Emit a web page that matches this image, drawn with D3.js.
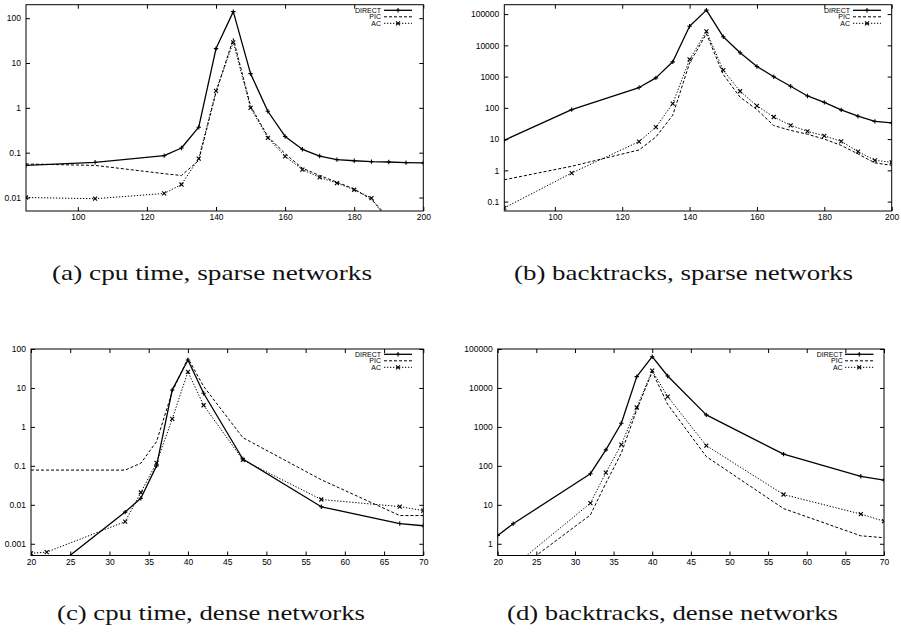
<!DOCTYPE html>
<html><head><meta charset="utf-8">
<script src="https://cdn.jsdelivr.net/npm/d3@7"></script>
<style>
body{margin:0;background:#fff}
svg{display:block}
.tick text{font-family:"Liberation Sans",Arial,sans-serif;font-size:8.5px;fill:#000}
.leg{font-family:"Liberation Sans",Arial,sans-serif;font-size:7px;fill:#000}
.cap{font-family:"Liberation Serif","Times New Roman",serif;font-size:22px;fill:#111}
</style>
</head><body>
<svg id="fig" width="901" height="632"></svg>
<script>
// ---------- data ----------
const seriesNames = ["DIRECT", "PIC", "AC"];

// sparse networks (x values)
const xSparse = [85,105,125,130,135,140,145,150,155,160,165,170,175,180,185,190,195,200];
// (a) cpu time, sparse
const aDirect = [0.052,0.061,0.086,0.127,0.37,21,140,5.8,0.84,0.23,0.119,0.084,0.070,0.066,0.063,0.062,0.060,0.059];
const aPic    = [0.056,0.052,0.034,0.031,0.067,2.2,35,1.1,0.23,0.095,0.045,0.031,0.022,0.0155,0.009,0.0035,null,null];
const aAc     = [0.010,0.0094,0.0123,0.0195,0.074,2.4,29,1.0,0.215,0.083,0.042,0.028,0.021,0.0149,0.0097,0.0028,null,null];
// (b) backtracks, sparse
const bDirect = [9.2,88,447,912,2970,41000,134000,18800,5800,2100,990,490,240,150,86,54,37,33];
const bPic    = [0.5,1.35,4.5,11.7,58,2700,23500,1170,219,88,27,19,14.3,10,6.3,3.35,1.73,1.45];
const bAc     = [0.063,0.82,8.3,24,137,3530,28000,1600,340,116,51,27.6,17.8,12.7,8.5,4.0,2.1,1.8];

// dense networks (x values)
const xDense = [20,22,32,34,36,38,40,42,47,57,67,70];
// (c) cpu time, dense
const cDirect = [0.00008,0.00017,0.0065,0.0148,0.1,8.9,52,7.3,0.15,0.0089,0.0033,0.0029];
const cPic    = [0.078,0.078,0.078,0.117,0.42,8,58,11,0.53,0.044,0.0053,0.0053];
const cAc     = [0.00057,0.00061,0.0037,0.0207,0.12,1.6,26,3.6,0.142,0.0137,0.009,0.0071];
// (d) backtracks, dense
const dDirect = [1.63,3.26,63,257,1240,19500,63500,20300,2040,200,54,43];
const dPic    = [0.1,0.18,5.5,36,213,2740,26000,3800,173,8.0,1.6,1.43];
const dAc     = [0.12,0.26,11,67,350,3150,27700,6000,330,18.4,5.8,3.8];

// tick values / labels
const xTicksSparse = [100,120,140,160,180,200];
const xTicksDense  = [20,25,30,35,40,45,50,55,60,65,70];
const yTicksA = [0.01,0.1,1,10,100];
const yTicksB = [0.1,1,10,100,1000,10000,100000];
const yTicksC = [0.001,0.01,0.1,1,10,100];
const yTicksD = [1,10,100,1000,10000,100000];

const captions = ["(a) cpu time, sparse networks","(b) backtracks, sparse networks",
                  "(c) cpu time, dense networks","(d) backtracks, dense networks"];

// ---------- layout ----------
const panels = [
  {x0:26, x1:423.3, y0:4.7, y1:211, xd:[85,200], yd:[0.005,200], xs:xSparse, ser:[aDirect,aPic,aAc],
   xt:xTicksSparse, yt:yTicksA, legX:381, legL:[384,412], legY:[10.3,16.8,23.3], cap:captions[0], capX:52, capW:320, capY:280},
  {x0:504.3, x1:891.7, y0:4.7, y1:211, xd:[85,200], yd:[0.05,200000], xs:xSparse, ser:[bDirect,bPic,bAc],
   xt:xTicksSparse, yt:yTicksB, legX:850, legL:[853,881], legY:[10.3,16.8,23.3], cap:captions[1], capX:514, capW:339, capY:280},
  {x0:31, x1:423.3, y0:349, y1:555.5, xd:[20,70], yd:[0.0005,100], xs:xDense, ser:[cDirect,cPic,cAc],
   xt:xTicksDense, yt:yTicksC, legX:381, legL:[384,412], legY:[354.3,360.8,367.3], cap:captions[2], capX:57, capW:308, capY:620},
  {x0:497.7, x1:884, y0:349, y1:555.5, xd:[20,70], yd:[0.5,100000], xs:xDense, ser:[dDirect,dPic,dAc],
   xt:xTicksDense, yt:yTicksD, legX:842.7, legL:[845,873.5], legY:[354.3,360.8,367.3], cap:captions[3], capX:507, capW:331, capY:620}
];

const styles = [
  {w:1.3, dash:null, marker:"plus"},
  {w:1.0, dash:"3,2", marker:null},
  {w:1.0, dash:"1.3,1.7", marker:"cross"}
];
const markerPath = {
  plus:"M-2.2,0H2.2M0,-2.2V2.2",
  cross:"M-2,-2L2,2M-2,2L2,-2"
};

const svg = d3.select("#fig");

panels.forEach((p, pi) => {
  const x = d3.scaleLinear().domain(p.xd).range([p.x0, p.x1]);
  const y = d3.scaleLog().domain(p.yd).range([p.y1, p.y0]);
  const g = svg.append("g");

  const clipId = "clip" + pi;
  svg.append("clipPath").attr("id", clipId).append("rect")
    .attr("x", p.x0).attr("y", p.y0).attr("width", p.x1 - p.x0).attr("height", p.y1 - p.y0);

  const fmt = d => String(d);
  // axes (ticks inward on all four sides)
  const ax = g.append("g").attr("transform", `translate(0,${p.y1})`)
    .call(d3.axisBottom(x).tickValues(p.xt).tickSize(-4).tickPadding(3).tickFormat(fmt));
  const axT = g.append("g").attr("transform", `translate(0,${p.y0})`)
    .call(d3.axisTop(x).tickValues(p.xt).tickSize(-4).tickFormat(""));
  const ay = g.append("g").attr("transform", `translate(${p.x0},0)`)
    .call(d3.axisLeft(y).tickValues(p.yt).tickSize(-4).tickPadding(5).tickFormat(fmt));
  const ayR = g.append("g").attr("transform", `translate(${p.x1},0)`)
    .call(d3.axisRight(y).tickValues(p.yt).tickSize(-4).tickFormat(""));
  [ax, axT, ay, ayR].forEach(a => {
    a.select(".domain").remove();
    a.selectAll(".tick line").attr("stroke", "#000").attr("stroke-width", 1);
    a.attr("font-family", null).attr("font-size", null);
  });

  // frame
  g.append("rect").attr("x", p.x0).attr("y", p.y0)
    .attr("width", p.x1 - p.x0).attr("height", p.y1 - p.y0)
    .attr("fill", "none").attr("stroke", "#000").attr("stroke-width", 1);

  // series
  const plot = g.append("g").attr("clip-path", `url(#${clipId})`);
  p.ser.forEach((vals, si) => {
    const st = styles[si];
    const pts = p.xs.map((xv, i) => [xv, vals[i]]).filter(d => d[1] != null);
    const line = d3.line().x(d => x(d[0])).y(d => y(d[1]));
    plot.append("path").attr("d", line(pts))
      .attr("fill", "none").attr("stroke", "#000").attr("stroke-width", st.w)
      .attr("stroke-dasharray", st.dash).attr("stroke-linejoin", "round");
    if (st.marker) {
      plot.selectAll(null).data(pts).enter().append("path")
        .attr("transform", d => `translate(${x(d[0])},${y(d[1])})`)
        .attr("d", markerPath[st.marker])
        .attr("fill", "none").attr("stroke", "#000").attr("stroke-width", 1.1);
    }
  });

  // legend
  seriesNames.forEach((name, si) => {
    const st = styles[si];
    const ly = p.legY[si];
    g.append("text").attr("class", "leg").attr("x", p.legX).attr("y", ly)
      .attr("dy", "0.35em").attr("text-anchor", "end").text(name);
    g.append("line").attr("x1", p.legL[0]).attr("x2", p.legL[1]).attr("y1", ly).attr("y2", ly)
      .attr("stroke", "#000").attr("stroke-width", st.w).attr("stroke-dasharray", st.dash);
    if (st.marker) {
      g.append("path").attr("transform", `translate(${(p.legL[0] + p.legL[1]) / 2},${ly})`)
        .attr("d", markerPath[st.marker]).attr("fill", "none").attr("stroke", "#000").attr("stroke-width", 1.1);
    }
  });

  // caption
  svg.append("text").attr("class", "cap").attr("x", p.capX).attr("y", p.capY)
    .attr("textLength", p.capW).attr("lengthAdjust", "spacingAndGlyphs").text(p.cap);
});
</script>
</body></html>
